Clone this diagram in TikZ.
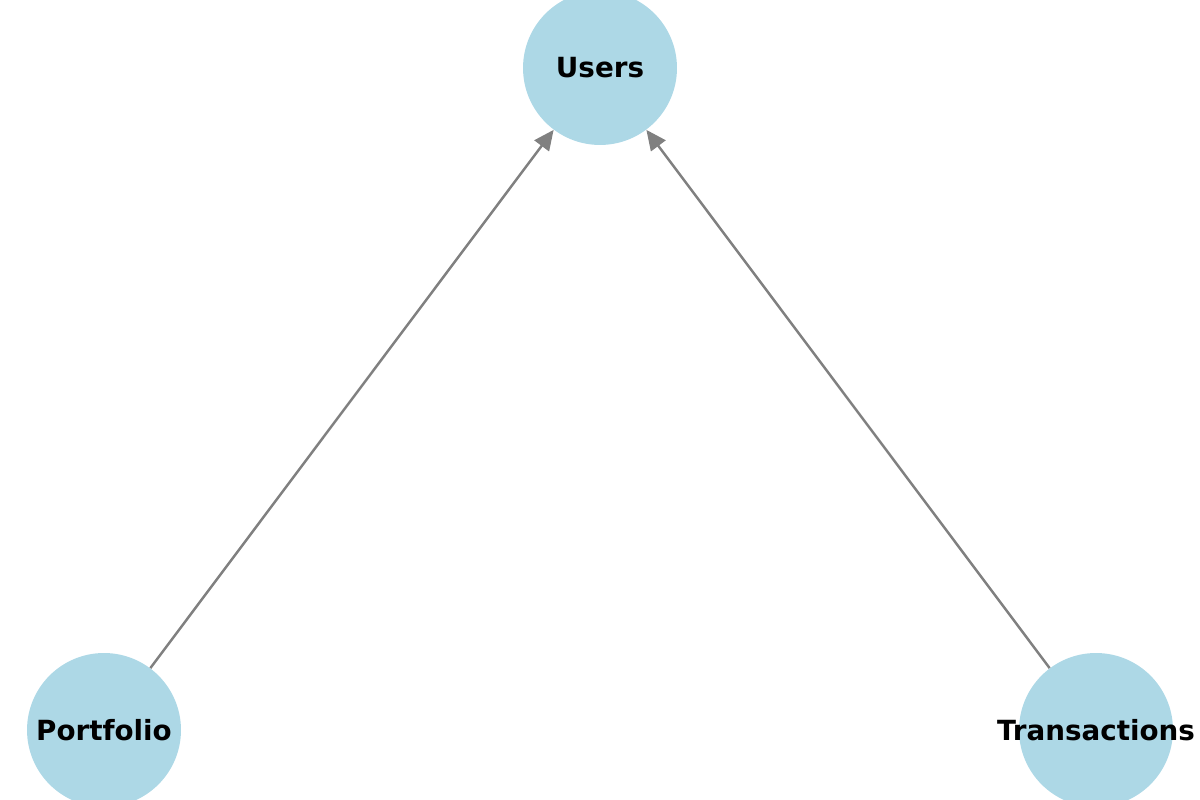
\documentclass[tikz,border=0pt]{standalone}
\usepackage{fontspec}
\setmainfont{DejaVu Sans}
\usetikzlibrary{arrows.meta}
\definecolor{nodeblue}{HTML}{ADD8E6}
\begin{document}
\begin{tikzpicture}[x=0.02cm,y=0.02cm,
  entity/.style={circle,fill=nodeblue,minimum size=3.08cm,inner sep=0pt,
    label={[font=\fontsize{15.8pt}{18pt}\selectfont\bfseries]center:#1}},
  link/.style={draw=gray,line width=1.4pt,
    -{Triangle[length=0.4cm,width=0.36cm,fill=gray]}}]
  \useasboundingbox (0,0) rectangle (1200,800);
  \node[entity=Users] (users) at (600,732) {};
  \node[entity=Portfolio] (portfolio) at (104,70) {};
  \node[entity=Transactions] (transactions) at (1096,70) {};
  \draw[link] (portfolio) -- (users);
  \draw[link] (transactions) -- (users);
\end{tikzpicture}
\end{document}
